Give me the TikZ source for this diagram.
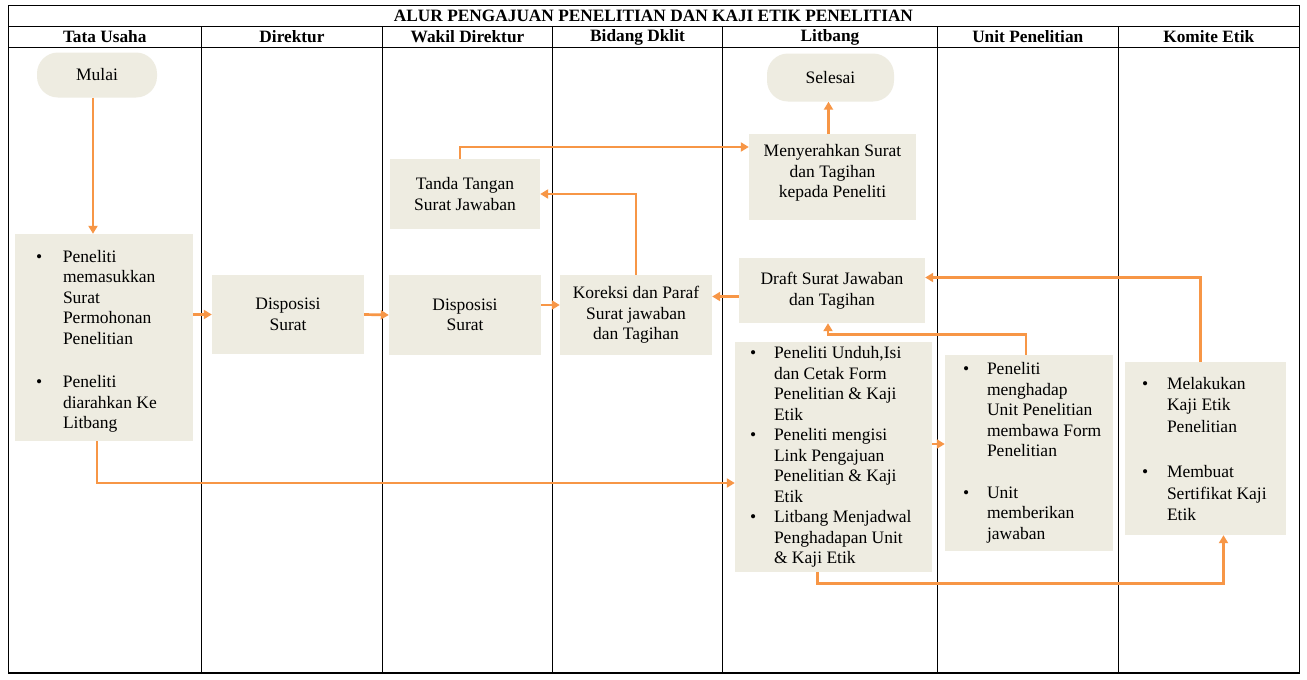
\documentclass[tikz,border=0pt]{standalone}
\usepackage{fontspec}
\setmainfont{Liberation Serif}
\usetikzlibrary{arrows.meta}
\definecolor{boxfill}{HTML}{EEECE1}
\definecolor{arrcol}{HTML}{F79646}
\newcommand{\blist}[2]{\begin{tabular}{@{}p{#1}@{}l@{}}#2\end{tabular}}
\newcommand{\shiftdown}[2]{\raisebox{-#1}[\height][\depth]{#2}}
\begin{document}
\begin{tikzpicture}[x=1pt,y=-1pt,
  font=\fontsize{17.5}{20.5}\selectfont,
  hdr/.style={font=\bfseries\fontsize{17.3}{19}\selectfont, inner sep=0pt},
  pbox/.style={fill=boxfill, inner sep=0pt, align=center},
  lbox/.style={fill=boxfill, inner ysep=0pt},
  term/.style={fill=boxfill, rounded corners=21pt, inner sep=0pt},
  conn/.style={draw=arrcol, line width=2.7pt, -{Triangle[length=8pt,width=9pt]}},
  grid/.style={line width=0.9pt}]
\useasboundingbox (0,0) rectangle (1307,680);
\fill[white] (0,0) rectangle (1307,680);

% table
\draw[grid] (8,5) rectangle (1299.5,673);
\draw[grid] (8,26) -- (1299.5,26);
\draw[grid] (8,47.5) -- (1299.5,47.5);
\foreach \cx in {201.5,382.5,552.5,722.5,937.5,1118}
  \draw[grid] (\cx,26) -- (\cx,673);
\draw[line width=2pt] (8,673) -- (1299.5,673);

\node[hdr] (title) at (653.5,16) {ALUR PENGAJUAN PENELITIAN DAN KAJI ETIK PENELITIAN};
\node[hdr] (h1) at (104.75,37) {Tata Usaha};
\node[hdr] (h2) at (292,37) {Direktur};
\node[hdr] (h3) at (467.5,37) {Wakil Direktur};
\node[hdr] (h4) at (637.5,37) {Bidang Dklit};
\node[hdr] (h5) at (830,37) {Litbang};
\node[hdr] (h6) at (1027.75,37) {Unit Penelitian};
\node[hdr] (h7) at (1208.75,37) {Komite Etik};

% nodes
\node[term, minimum width=120pt, minimum height=45pt] (mulai) at (97,75) {Mulai};
\node[term, minimum width=127pt, minimum height=48pt] (selesai) at (830.5,77.5) {Selesai};

\node[lbox, minimum width=178pt, minimum height=207pt, inner xsep=21pt] (box1) at (104,337.5)
  {\makebox[136pt][l]{\shiftdown{4pt}{\blist{27pt}{\textbullet & Peneliti\\ & memasukkan\\ & Surat\\ & Permohonan\\ & Penelitian\\[23pt]
  \textbullet & Peneliti\\ & diarahkan Ke\\ & Litbang}}}};

\node[pbox, minimum width=152pt, minimum height=79pt] (disp1) at (288,314.5) {Disposisi\\Surat};
\node[pbox, minimum width=152pt, minimum height=80pt] (disp2) at (465,315) {Disposisi\\Surat};
\node[pbox, minimum width=150pt, minimum height=70pt] (tanda) at (465,194) {Tanda Tangan\\Surat Jawaban};
\node[pbox, minimum width=152pt, minimum height=80pt] (koreksi) at (636,315) {Koreksi dan Paraf\\Surat jawaban\\dan Tagihan};
\node[pbox, minimum width=167pt, minimum height=86pt] (men) at (832.5,177) {\raisebox{4pt}[\height][\depth]{\begin{tabular}{@{}c@{}}Menyerahkan Surat\\dan Tagihan\\kepada Peneliti\end{tabular}}};
\node[pbox, minimum width=186pt, minimum height=65pt] (draft) at (832,290.5) {Draft Surat Jawaban\\dan Tagihan};

\node[lbox, minimum width=197pt, minimum height=230pt, inner xsep=15pt] (lit) at (833.5,457)
  {\makebox[167pt][l]{\blist{24pt}{\textbullet & Peneliti Unduh,Isi\\ & dan Cetak Form\\ & Penelitian \& Kaji\\ & Etik\\
  \textbullet & Peneliti mengisi\\ & Link Pengajuan\\ & Penelitian \& Kaji\\ & Etik\\
  \textbullet & Litbang Menjadwal\\ & Penghadapan Unit\\ & \& Kaji Etik}}};

\node[lbox, minimum width=168pt, minimum height=196pt, inner xsep=18pt] (unit) at (1029,453)
  {\makebox[132pt][l]{\blist{24pt}{\textbullet & Peneliti\\ & menghadap\\ & Unit Penelitian\\ & membawa Form\\ & Penelitian\\[21pt]
  \textbullet & Unit\\ & memberikan\\ & jawaban}}};

\node[lbox, minimum width=161pt, minimum height=173pt, inner xsep=17pt] (kom) at (1205.5,448.5)
  {\makebox[127pt][l]{\shiftdown{2.5pt}{\blist{25pt}{\textbullet & Melakukan\\[1pt] & Kaji Etik\\[1pt] & Penelitian\\[25pt]
  \textbullet & Membuat\\[1pt] & Sertifikat Kaji\\[1pt] & Etik}}}};

% connectors
\draw[conn] ([xshift=-4pt]mulai.south) -- ([xshift=-4pt]mulai.south |- box1.north);
\draw[conn] (box1.east |- disp1.west) -- (disp1.west);
\draw[conn] (disp1.east) -- (disp2.west);
\draw[conn] ([yshift=10pt]disp2.east) -- ([yshift=10pt]disp2.east -| koreksi.west);
\draw[conn] ([yshift=-6pt]draft.west) -- ([yshift=-6pt]draft.west -| koreksi.east);
\draw[conn] (koreksi.north) |- (tanda.east);
\draw[conn] ([xshift=-5pt]tanda.north) |- ([yshift=30pt]men.west);
\draw[conn] ([xshift=-2pt]selesai.south |- men.north) -- ([xshift=-2pt]selesai.south);
\draw[conn] ([xshift=-7pt]box1.south) |- ([yshift=-26pt]lit.west);
\draw[conn] ([yshift=13pt]lit.east) -- ([yshift=13pt]lit.east -| unit.west);
\draw[conn] ([xshift=-16pt]lit.south) -- ++(0,-11pt) -| ([xshift=18pt]kom.south);
\draw[conn] ([xshift=-3pt]unit.north) -- ++(0,20pt) -| ([xshift=-4pt]draft.south);
\draw[conn] ([xshift=-5pt]kom.north) |- ([yshift=13pt]draft.east);
\end{tikzpicture}
\end{document}
